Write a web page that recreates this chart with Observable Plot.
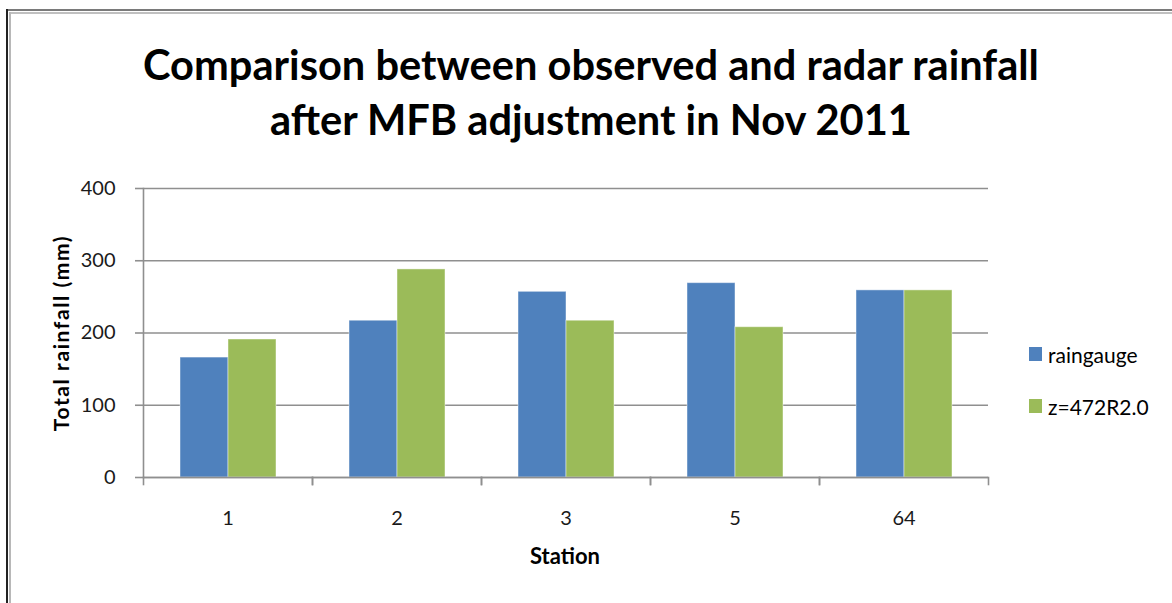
<!DOCTYPE html>
<html>
<head>
<meta charset="utf-8">
<script src="https://cdn.jsdelivr.net/npm/d3@7"></script>
<script src="https://cdn.jsdelivr.net/npm/@observablehq/plot@0.6"></script>
<style>
  html, body { margin: 0; padding: 0; background: #fff; }
  #wrap { position: relative; width: 1172px; height: 603px; overflow: hidden; font-family: Lato, "Open Sans", sans-serif; }
  .bt1 { position: absolute; left: 7px; top: 9px; right: 0; height: 2px; background: #7a7a7a; }
  .bt2 { position: absolute; left: 9px; top: 12px; right: 0; height: 2px; background: #c0c0c0; }
  .bl1 { position: absolute; left: 6px; top: 9px; bottom: 0; width: 2px; background: #222; }
  .bl2 { position: absolute; left: 9px; top: 12px; bottom: 0; width: 2px; background: #b8b8b8; }
  #title { position: absolute; left: 0; width: 1182px; top: 37px; text-align: center; font-weight: 700; font-size: 41.6px; line-height: 55px; color: #000; }
  #ytitle { position: absolute; left: 60px; top: 333px; transform: translate(-50%, -50%) rotate(-90deg); white-space: nowrap; font-weight: 700; font-size: 21px; letter-spacing: 1.6px; color: #000; }
  #xtitle { position: absolute; left: 565px; top: 555px; transform: translate(-50%, -50%); font-weight: 700; font-size: 22px; color: #000; }
  #legend { position: absolute; left: 1029px; top: 341px; font-size: 21px; color: #000; }
  .li { display: flex; align-items: center; height: 26px; margin-bottom: 26px; }
  .sw { width: 13px; height: 14px; margin-right: 6px; }
  #chart { position: absolute; left: 0; top: 0; }
</style>
</head>
<body>
<div id="wrap">
  <div class="bt1"></div><div class="bt2"></div><div class="bl1"></div><div class="bl2"></div>
  <div id="chart"></div>
  <div id="title"></div>
  <div id="ytitle"></div>
  <div id="xtitle"></div>
  <div id="legend"></div>
</div>
<script>
const titleLines = ["Comparison between observed and radar rainfall", "after MFB adjustment in Nov 2011"];
const yAxisTitle = "Total rainfall (mm)";
const xAxisTitle = "Station";
const stations = ["1", "2", "3", "5", "64"];
const seriesNames = ["raingauge", "z=472R2.0"];
const raingauge = [166, 217, 257, 269, 259];
const radar = [191, 288, 217, 208, 259];
const yTicks = [0, 100, 200, 300, 400];
const colors = ["#4f81bd", "#9bbb59"];

const data = stations.flatMap((s, i) => [
  {station: s, series: seriesNames[0], value: raingauge[i]},
  {station: s, series: seriesNames[1], value: radar[i]}
]);

document.getElementById("title").innerHTML = titleLines.join("<br>");
document.getElementById("ytitle").textContent = yAxisTitle;
document.getElementById("xtitle").textContent = xAxisTitle;
const legend = document.getElementById("legend");
seriesNames.forEach((n, i) => {
  const d = document.createElement("div");
  d.className = "li";
  d.innerHTML = `<div class="sw" style="background:${colors[i]}"></div><span>${n}</span>`;
  legend.appendChild(d);
});

const chart = Plot.plot({
  width: 1172,
  height: 603,
  marginLeft: 142,
  marginRight: 184,
  marginTop: 188,
  marginBottom: 126,
  style: {fontFamily: "Lato, 'Open Sans', sans-serif", background: "transparent"},
  fx: {domain: stations, padding: 0, label: null},
  x: {domain: seriesNames, paddingInner: 0, paddingOuter: 0.739, axis: null},
  y: {domain: [0, 400], label: null},
  color: {domain: seriesNames, range: colors},
  marks: [
    Plot.gridY(yTicks, {stroke: "#8f8f8f", strokeOpacity: 1, strokeWidth: 1.6}),
    Plot.barY(data, {fx: "station", x: "series", y: "value", fill: "series", stroke: "#ffffff", strokeOpacity: 0.45, strokeWidth: 1}),
    Plot.ruleY([0], {stroke: "#8f8f8f", strokeWidth: 1.6}),
    Plot.frame({anchor: "left", insetTop: 289, insetBottom: -7, stroke: "#8f8f8f", strokeWidth: 1.6}),
    Plot.frame({anchor: "right", insetTop: 289, insetBottom: -7, stroke: "#8f8f8f", strokeWidth: 1.6}),
    Plot.frame({anchor: "left", facetAnchor: "left", stroke: "#8f8f8f", strokeWidth: 1.6}),
    Plot.axisY(yTicks, {tickSize: 8, tickPadding: 20, fontSize: 20, stroke: "#8f8f8f", strokeWidth: 1.6, fill: "#1a1a1a", label: null}),
    Plot.axisFx({anchor: "bottom", tickSize: 0, tickPadding: 33, fontSize: 20, fill: "#1a1a1a", label: null})
  ]
});
document.getElementById("chart").appendChild(chart);
</script>
</body>
</html>
